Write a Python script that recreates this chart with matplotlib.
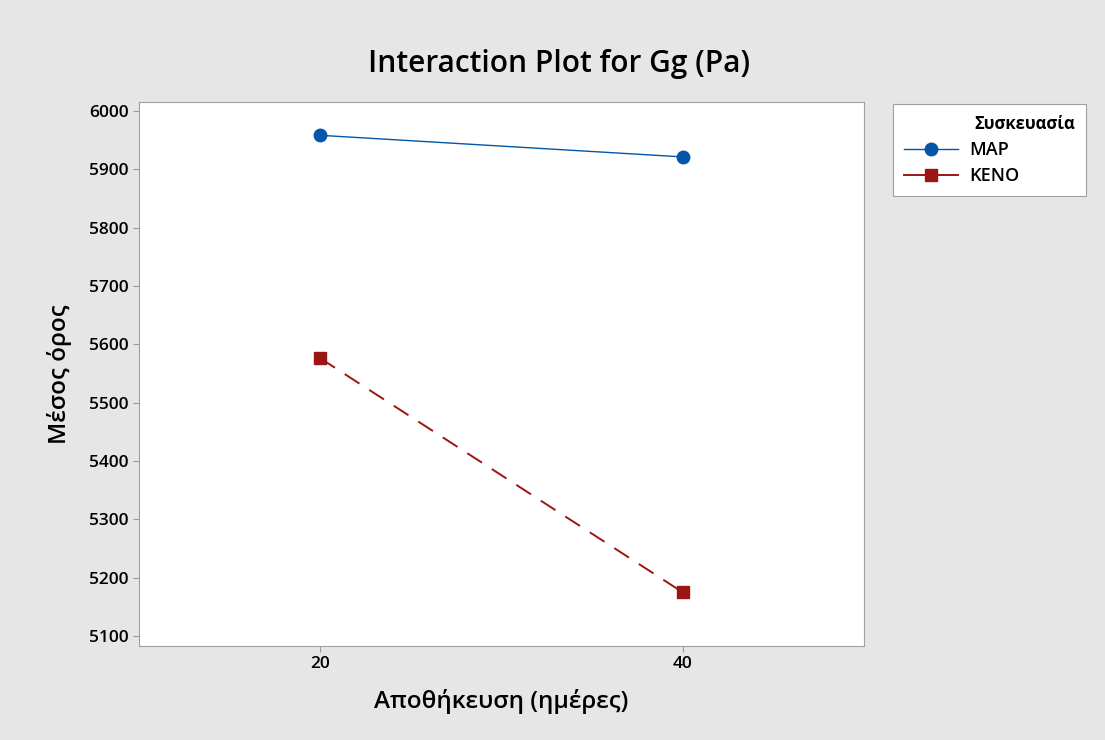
import matplotlib
matplotlib.use("Agg")
import matplotlib.pyplot as plt
from matplotlib.lines import Line2D

plt.rcParams['font.family'] = ['Open Sans', 'DejaVu Sans']

# data
storage_days = [20, 40]
map_means = [5958, 5921]
keno_means = [5576, 5175]
y_ticks = [5100, 5200, 5300, 5400, 5500, 5600, 5700, 5800, 5900, 6000]
x_ticks = [20, 40]

blue = '#0456a8'
red = '#9b1515'
bg = '#e6e6e6'

fig = plt.figure(figsize=(11.05, 7.4), dpi=100, facecolor=bg)
ax = fig.add_axes([0.1258, 0.1270, 0.6561, 0.7351])
ax.set_facecolor('white')

ax.plot(storage_days, map_means, color=blue, lw=1.0, marker='o', ms=9,
        markerfacecolor=blue, markeredgecolor=blue, label='MAP')
ax.plot(storage_days, keno_means, color=red, lw=1.4, ls=(0, (9, 6)),
        marker='s', ms=8.5, markerfacecolor=red, markeredgecolor=red, label='KENO')

ax.set_xlim(10, 50)
ax.set_ylim(5083, 6015)
ax.set_xticks(x_ticks)
ax.set_yticks(y_ticks)
ax.tick_params(axis='both', labelsize=12.5, colors='#999999', labelcolor='black',
               length=4, width=0.8)
for lab in ax.get_xticklabels() + ax.get_yticklabels():
    lab.set_fontweight('semibold')
for sp in ax.spines.values():
    sp.set_color('#a0a0a0')
    sp.set_linewidth(0.8)

ax.set_ylabel('Μέσος όρος', fontsize=17.5, fontweight='semibold', labelpad=12)
ax.set_xlabel('Αποθήκευση (ημέρες)', fontsize=17.5, fontweight='semibold', labelpad=12)
fig.text(0.506, 0.914, 'Interaction Plot for Gg (Pa)', ha='center', va='center',
         fontsize=21.5, fontweight='semibold')

handles = [Line2D([], [], color=blue, lw=1.0, marker='o', ms=9),
           Line2D([], [], color=red, lw=1.4, marker='s', ms=8.5)]
leg = fig.legend(handles, ['MAP', 'KENO'], title='Συσκευασία',
                 loc='upper left',
                 bbox_to_anchor=(893 / 1105, 1 - 190 / 740, 193 / 1105, 86 / 740),
                 mode='expand', fontsize=13, title_fontsize=12,
                 frameon=True, fancybox=False, framealpha=1,
                 handlelength=3.0, handletextpad=0.6, borderpad=0.6,
                 labelspacing=0.45, borderaxespad=0)
leg.get_title().set_fontweight('bold')
for t in leg.get_texts():
    t.set_fontweight('semibold')
leg.get_frame().set_edgecolor('#a0a0a0')
leg.get_frame().set_linewidth(0.8)
leg._legend_box.align = 'right'

fig.savefig('out.png', dpi=100, facecolor=bg)
